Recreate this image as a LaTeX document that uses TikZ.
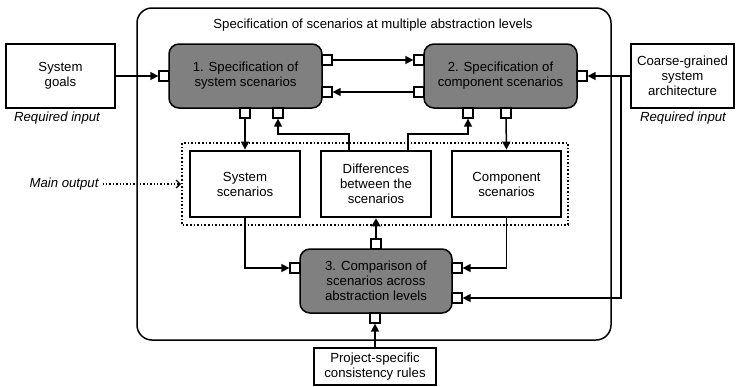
\documentclass[tikz,border=0pt]{standalone}
\usepackage{fontspec}
\setmainfont{Liberation Sans}
\usetikzlibrary{arrows.meta}
\definecolor{stepgray}{RGB}{128,128,128}
\begin{document}
\begin{tikzpicture}[x=1pt,y=-1pt,
  every node/.style={font=\fontsize{13.2}{15}\selectfont, align=center, inner sep=0pt},
  inbox/.style={draw, line width=1.4pt, fill=white},
  stepbox/.style={draw, line width=1.5pt, fill=stepgray, rounded corners=10pt, minimum width=153pt, minimum height=64pt},
  artefact/.style={draw, line width=2.8pt, fill=white, minimum width=108pt, minimum height=64pt},
  port/.style={draw, line width=1.3pt, fill=white, minimum size=10pt},
  flow/.style={line width=1.5pt, -{Triangle[length=8pt,width=8pt]}},
  note/.style={font=\itshape\fontsize{13.2}{15}\selectfont}
]
\useasboundingbox (0,0) rectangle (736,386);

% enclosing activity
\draw[line width=1.5pt, rounded corners=15pt] (137,8) rectangle (611,340);
\node (title) at (373,25) {Specification of scenarios at multiple abstraction levels};

% grouping of the main outputs
\draw[dotted, line width=1.6pt] (182,143) rectangle (568,225);
\node[note] (mainout) at (64,184) {Main output};
\coordinate (grp) at (181,184);
\draw[dotted, line width=1.4pt, -{Straight Barb[length=4pt,width=8pt]}] (mainout.east) ++(4,0) -- (grp);

% inputs
\node[inbox, minimum width=109pt, minimum height=64pt] (goals) at (60.5,76) {System\\goals};
\node[note] (req1) at (57,118) {Required input};
\node[inbox, minimum width=103pt, minimum height=64pt] (arch) at (682.5,76) {Coarse-grained\\system\\architecture};
\node[note] (req2) at (683,118) {Required input};
\node[inbox, minimum width=122pt, minimum height=37pt] (rules) at (375,366.5) {Project-specific\\consistency rules};

% activities
\node[stepbox] (s1) at (245.5,76) {1. Specification of\\system scenarios};
\node[stepbox] (s2) at (500.5,76) {2. Specification of\\component scenarios};
\node[stepbox, minimum width=152pt] (s3) at (376,281) {3. Comparison of\\scenarios across\\abstraction levels};

% outputs
\node[artefact, minimum width=110pt, minimum height=66pt] (sys) at (245,184) {System\\scenarios};
\node[artefact, minimum width=110pt, minimum height=66pt] (diff) at (376,184) {Differences\\between the\\scenarios};
\node[artefact, minimum width=109pt, minimum height=66pt] (comp) at (506.5,184) {Component\\scenarios};

% ports
\node[port] (p1L) at (164,76) {};
\node[port] (p1Ra) at (327,60) {};
\node[port] (p1Rb) at (327,92) {};
\node[port] (p1Ba) at (245,113) {};
\node[port] (p1Bb) at (278,113) {};
\node[port] (p2La) at (419,60) {};
\node[port] (p2Lb) at (419,92) {};
\node[port] (p2R) at (582,76) {};
\node[port] (p2Ba) at (468,113) {};
\node[port] (p2Bb) at (506,113) {};
\node[port] (p3L) at (295,268) {};
\node[port] (p3Ra) at (457,268) {};
\node[port] (p3Rb) at (457,298) {};
\node[port] (p3T) at (376,244) {};
\node[port] (p3B) at (375,318) {};

% connectors
\draw[flow] (goals.east) -- (p1L.west);
\draw[flow] (p1Ra.east) -- (p2La.west);
\draw[flow] (p2Lb.west) -- (p1Rb.east);
\draw[flow] (arch.west) -- (p2R.east);
\coordinate (j) at (621,76);
\draw[line width=1.5pt] (arch.west) -- (j);
\draw[flow] (j) |- (p3Rb.east);
\draw[flow] (p1Ba.south) -- (sys.north);
\draw[flow] (p2Bb.south) -- (comp.north);
\draw[flow] (diff.north -| 349,0) |- (278,134) -- (p1Bb.south);
\draw[flow] (diff.north -| 408,0) |- (468,134) -- (p2Ba.south);
\draw[flow] (sys.south) |- (p3L.west);
\draw[flow] (comp.south) |- (p3Ra.east);
\draw[line width=2.4pt, -{Triangle[length=8pt,width=9pt]}] (p3T.north) -- (diff.south);
\draw[flow] (rules.north) -- (p3B.south);
\end{tikzpicture}
\end{document}
